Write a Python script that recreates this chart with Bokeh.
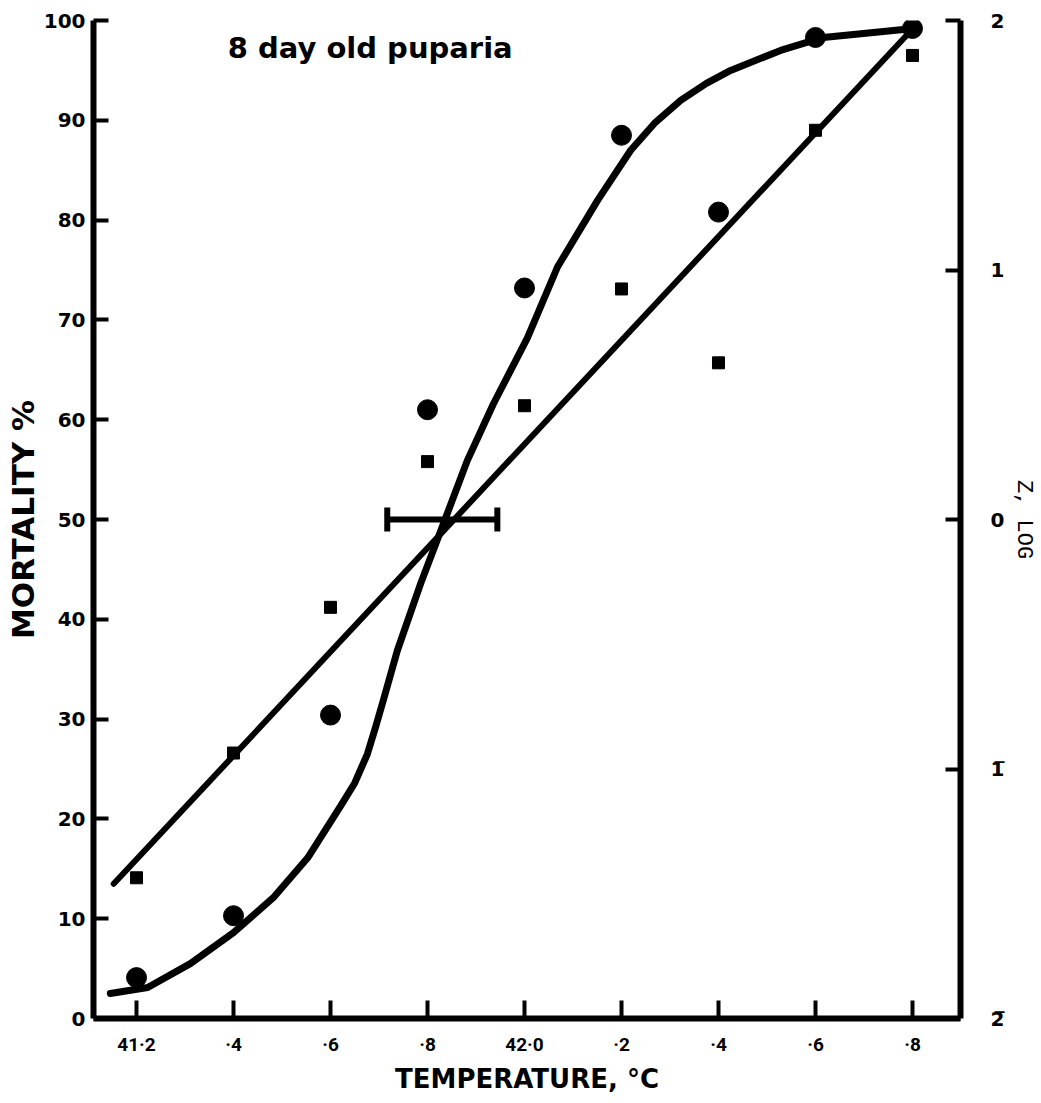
import math
from bokeh.plotting import figure
from bokeh.models import (Range1d, LinearAxis, FixedTicker, Label, Whisker,
                          TeeHead, ColumnDataSource)
from bokeh.embed import file_html
from bokeh.resources import INLINE

# ---------------- data ----------------
temp_ticks = [41.2, 41.4, 41.6, 41.8, 42.0, 42.2, 42.4, 42.6, 42.8]
temp_tick_labels = ["41·2", "·4", "·6", "·8", "42·0", "·2", "·4", "·6", "·8"]
mort_ticks = [0, 10, 20, 30, 40, 50, 60, 70, 80, 90, 100]
z_ticks = [-2, -1, 0, 1, 2]
z_tick_labels = ["2\u0305", "1\u0305", "0", "1", "2"]

# observed mortality (%) - circles
obs_temp = [41.2, 41.4, 41.6, 41.8, 42.0, 42.2, 42.4, 42.6, 42.8]
obs_mort = [4.1, 10.3, 30.4, 61.0, 73.2, 88.5, 80.8, 98.3, 99.2]

# probit (Z, log) values - squares
z_temp = [41.2, 41.4, 41.6, 41.8, 42.0, 42.2, 42.4, 42.6, 42.8]
z_mort = [14.1, 26.6, 41.2, 55.8, 61.4, 73.1, 65.7, 89.0, 96.5]

# hand-fitted sigmoid curve (mortality %)
curve_temp = [41.146, 41.223, 41.311, 41.400, 41.482, 41.553, 41.621, 41.650,
              41.676, 41.693, 41.709, 41.738, 41.786, 41.833, 41.882, 41.936,
              42.006, 42.068, 42.151, 42.219, 42.270, 42.322, 42.375, 42.425,
              42.528, 42.616, 42.802]
curve_mort = [2.5, 3.1, 5.5, 8.6, 12.1, 16.1, 21.3, 23.6,
              26.5, 29.2, 31.9, 36.9, 43.6, 49.6, 55.9, 61.6,
              68.2, 75.3, 82.0, 87.0, 89.8, 92.0, 93.7, 95.0,
              97.0, 98.3, 99.2]

# fitted probit regression line (Z units)
probit_temp = [41.153, 42.802]
probit_z = [-1.46, 1.97]

# LD50 and its fiducial limits
ld50_level = [50]
ld50_lower = [41.717]
ld50_upper = [41.944]

# ---------------- figure ----------------
FONT = "DejaVu Sans"
p = figure(width=1041, height=1100,
           x_range=Range1d(41.1113, 42.899), y_range=Range1d(0, 100),
           output_backend="svg", toolbar_location=None,
           min_border_left=93, min_border_right=81,
           min_border_top=20, min_border_bottom=82)
p.grid.visible = False
p.outline_line_color = None
p.background_fill_color = "white"
p.border_fill_color = "white"
p.extra_y_ranges = {"z": Range1d(-2, 2)}

# bottom axis
xa = p.xaxis[0]
xa.ticker = FixedTicker(ticks=temp_ticks)
xa.major_label_overrides = dict(zip(temp_ticks, temp_tick_labels))
xa.minor_tick_line_color = None
xa.major_tick_in = 18
xa.major_tick_out = 0
xa.major_tick_line_width = 4
xa.major_tick_line_color = "black"
xa.axis_line_width = 6
xa.axis_line_color = "black"
xa.major_label_standoff = 14
xa.major_label_text_font = "Roboto"
xa.major_label_text_font_style = "bold"
xa.major_label_text_font_size = "19px"
xa.major_label_text_color = "black"
xa.axis_label = "TEMPERATURE, °C"
xa.axis_label_text_font = FONT
xa.axis_label_text_font_style = "bold"
xa.axis_label_text_font_size = "26px"
xa.axis_label_text_color = "black"
xa.axis_label_standoff = 5

# left axis
ya = p.yaxis[0]
ya.ticker = FixedTicker(ticks=mort_ticks)
ya.minor_tick_line_color = None
ya.major_tick_in = 15
ya.major_tick_out = 0
ya.major_tick_line_width = 4
ya.major_tick_line_color = "black"
ya.axis_line_width = 6
ya.axis_line_color = "black"
ya.major_label_standoff = 8
ya.major_label_text_font = FONT
ya.major_label_text_font_style = "bold"
ya.major_label_text_font_size = "20px"
ya.major_label_text_color = "black"
ya.axis_label = "MORTALITY %"
ya.axis_label_text_font = FONT
ya.axis_label_text_font_style = "bold"
ya.axis_label_text_font_size = "31px"
ya.axis_label_text_color = "black"
ya.axis_label_standoff = 0

# right axis (Z, log)
za = LinearAxis(y_range_name="z", ticker=FixedTicker(ticks=z_ticks),
                major_label_overrides=dict(zip(z_ticks, z_tick_labels)))
za.minor_tick_line_color = None
za.major_tick_in = 15
za.major_tick_out = 0
za.major_tick_line_width = 4
za.major_tick_line_color = "black"
za.axis_line_width = 6
za.axis_line_color = "black"
za.major_label_standoff = 30
za.major_label_text_font = FONT
za.major_label_text_font_style = "bold"
za.major_label_text_font_size = "20px"
za.major_label_text_color = "black"
za.axis_label = "Z, LOG"
za.axis_label_text_font = "Liberation Mono"
za.axis_label_text_font_style = "normal"
za.axis_label_text_font_size = "22px"
za.axis_label_text_color = "black"
za.axis_label_standoff = 4
try:
    za.axis_label_orientation = "vertical"
except Exception:
    pass
p.add_layout(za, "right")

# sigmoid curve
p.line(curve_temp, curve_mort, line_width=7, line_color="black",
       line_join="round", line_cap="round")
# probit line on Z scale
p.line(probit_temp, probit_z, y_range_name="z", line_width=6,
       line_color="black", line_cap="round")

# points
p.scatter(obs_temp, obs_mort, marker="circle", size=20, color="black")
p.scatter(z_temp, z_mort, marker="square", size=12, color="black")

# LD50 with fiducial limits
wsrc = ColumnDataSource(dict(base=ld50_level, lower=ld50_lower, upper=ld50_upper))
p.add_layout(Whisker(source=wsrc, base="base", lower="lower", upper="upper",
                     dimension="width", line_width=6, line_color="black",
                     lower_head=TeeHead(size=24, line_width=6, line_color="black"),
                     upper_head=TeeHead(size=24, line_width=6, line_color="black")))

# title text inside the frame
p.add_layout(Label(x=41.388, y=97.2, text="8 day old puparia",
                   text_font=FONT, text_font_style="bold",
                   text_font_size="29px", text_color="black",
                   text_align="left", text_baseline="alphabetic"))

open("out.html", "w").write(file_html(p, INLINE))
